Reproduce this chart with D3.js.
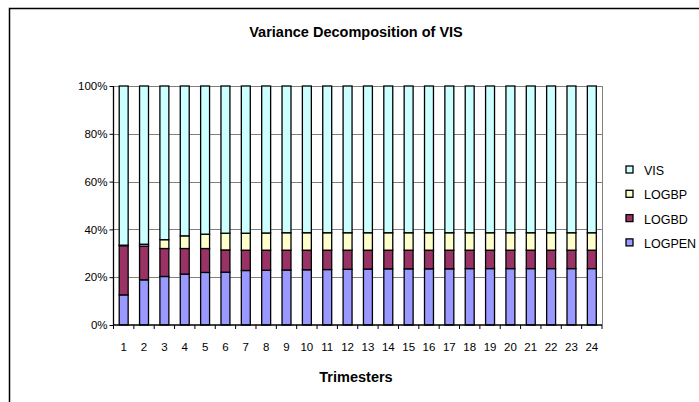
<!DOCTYPE html>
<html>
<head>
  <meta charset="utf-8">
  <title>Variance Decomposition of VIS</title>
  <script src="https://cdn.jsdelivr.net/npm/d3@7/dist/d3.min.js"></script>
  <style>
    body { margin: 0; background: #fff; }
    text { font-family: "Liberation Sans", Arial, sans-serif; fill: #000; }
  </style>
</head>
<body>
<svg id="chart" width="699" height="402"></svg>
<script>
// data (percent of forecast error variance)
var trimesters = d3.range(1, 25).map(String);
var seriesNames = ["LOGPEN", "LOGBD", "LOGBP", "VIS"];
var seriesColors = {LOGPEN: "#9999ff", LOGBD: "#993366", LOGBP: "#ffffcc", VIS: "#ccffff"};

var logpen = [12.6, 18.9, 20.3, 21.3, 22.0, 22.1, 22.8, 22.9, 23.0, 23.1, 23.2, 23.3,
              23.4, 23.5, 23.5, 23.5, 23.5, 23.6, 23.6, 23.6, 23.6, 23.6, 23.6, 23.6];
var logbd  = [20.6, 14.1, 11.7, 10.7, 10.0, 9.3, 8.5, 8.4, 8.3, 8.2, 8.1, 8.0,
              7.9, 7.8, 7.8, 7.8, 7.8, 7.7, 7.7, 7.7, 7.7, 7.7, 7.7, 7.7];
var logbp  = [0.2, 0.8, 3.7, 5.3, 6.0, 7.0, 7.1, 7.2, 7.3, 7.3, 7.3, 7.3,
              7.3, 7.3, 7.3, 7.3, 7.3, 7.3, 7.3, 7.3, 7.3, 7.3, 7.3, 7.3];
var yTicks = [0, 20, 40, 60, 80, 100];

var rows = trimesters.map(function(t, i) {
    var r = {t: t, LOGPEN: logpen[i], LOGBD: logbd[i], LOGBP: logbp[i]};
    r.VIS = 100 - r.LOGPEN - r.LOGBD - r.LOGBP;
    return r;
});

var svg = d3.select("#chart");
var plot = {left: 113.5, right: 602, top: 86, bottom: 325};

// outer chart frame
svg.append("path")
    .attr("d", "M9.5,402 V8.5 H699")
    .attr("fill", "none")
    .attr("stroke", "#000")
    .attr("stroke-width", 1.5);

var x = d3.scaleBand().domain(trimesters).range([plot.left, plot.right]).paddingInner(0.56).paddingOuter(0.28);
var y = d3.scaleLinear().domain([0, 100]).range([plot.bottom, plot.top]);

// gridlines
svg.append("g").selectAll("line")
    .data(yTicks.slice(1))
    .join("line")
    .attr("x1", plot.left).attr("x2", plot.right)
    .attr("y1", function(d) { return Math.round(y(d)) + 0.5; })
    .attr("y2", function(d) { return Math.round(y(d)) + 0.5; })
    .attr("stroke", "#808080");

svg.append("line")
    .attr("x1", plot.right + 0.5).attr("x2", plot.right + 0.5)
    .attr("y1", plot.top).attr("y2", plot.bottom)
    .attr("stroke", "#808080");

// stacked bars
var stacked = d3.stack().keys(seriesNames)(rows);
svg.append("g").selectAll("g")
    .data(stacked)
    .join("g")
    .attr("fill", function(d) { return seriesColors[d.key]; })
    .selectAll("rect")
    .data(function(d) { return d; })
    .join("rect")
    .attr("x", function(d) { return x(d.data.t); })
    .attr("width", x.bandwidth())
    .attr("y", function(d) { return y(d[1]); })
    .attr("height", function(d) { return y(d[0]) - y(d[1]); })
    .attr("stroke", "#000")
    .attr("stroke-width", 1.3);

// y axis
var yAxis = d3.axisLeft(y)
    .tickValues(yTicks)
    .tickFormat(function(d) { return d + "%"; })
    .tickSize(4)
    .tickPadding(2);
var gy = svg.append("g").attr("transform", "translate(" + plot.left + ",0)").call(yAxis);
gy.select(".domain").attr("stroke", "#000").attr("stroke-width", 1.3).attr("d", "M0," + plot.top + "V" + plot.bottom);
gy.selectAll("text").style("font-size", "11.5px").style("font-family", "Liberation Sans, Arial, sans-serif");

// x axis: ticks between categories
var gx = svg.append("g").attr("transform", "translate(0," + plot.bottom + ")");
gx.append("line")
    .attr("x1", plot.left).attr("x2", plot.right)
    .attr("stroke", "#000").attr("stroke-width", 1.3);
gx.selectAll("line.tick")
    .data(d3.range(trimesters.length + 1))
    .join("line")
    .attr("class", "tick")
    .attr("x1", function(i) { return plot.left + i * (plot.right - plot.left) / trimesters.length; })
    .attr("x2", function(i) { return plot.left + i * (plot.right - plot.left) / trimesters.length; })
    .attr("y1", 0).attr("y2", 4)
    .attr("stroke", "#000");
gx.selectAll("text")
    .data(trimesters)
    .join("text")
    .attr("x", function(d) { return x(d) + x.bandwidth() / 2; })
    .attr("y", 26)
    .attr("text-anchor", "middle")
    .style("font-size", "11.5px")
    .text(function(d) { return d; });

// titles
svg.append("text")
    .attr("x", 356).attr("y", 37)
    .attr("text-anchor", "middle")
    .style("font-size", "14.5px").style("font-weight", "bold")
    .text("Variance Decomposition of VIS");

svg.append("text")
    .attr("x", 356).attr("y", 382)
    .attr("text-anchor", "middle")
    .style("font-size", "14.5px").style("font-weight", "bold")
    .text("Trimesters");

// legend, VIS on top
var legend = svg.append("g").attr("transform", "translate(626,166)");
var items = legend.selectAll("g")
    .data(seriesNames.slice().reverse())
    .join("g")
    .attr("transform", function(d, i) { return "translate(0," + (i * 24.3) + ")"; });
items.append("rect")
    .attr("width", 7).attr("height", 7)
    .attr("fill", function(d) { return seriesColors[d]; })
    .attr("stroke", "#000").attr("stroke-width", 1.3);
items.append("text")
    .attr("x", 18).attr("y", 9)
    .style("font-size", "12.5px")
    .text(function(d) { return d; });
</script>
</body>
</html>
